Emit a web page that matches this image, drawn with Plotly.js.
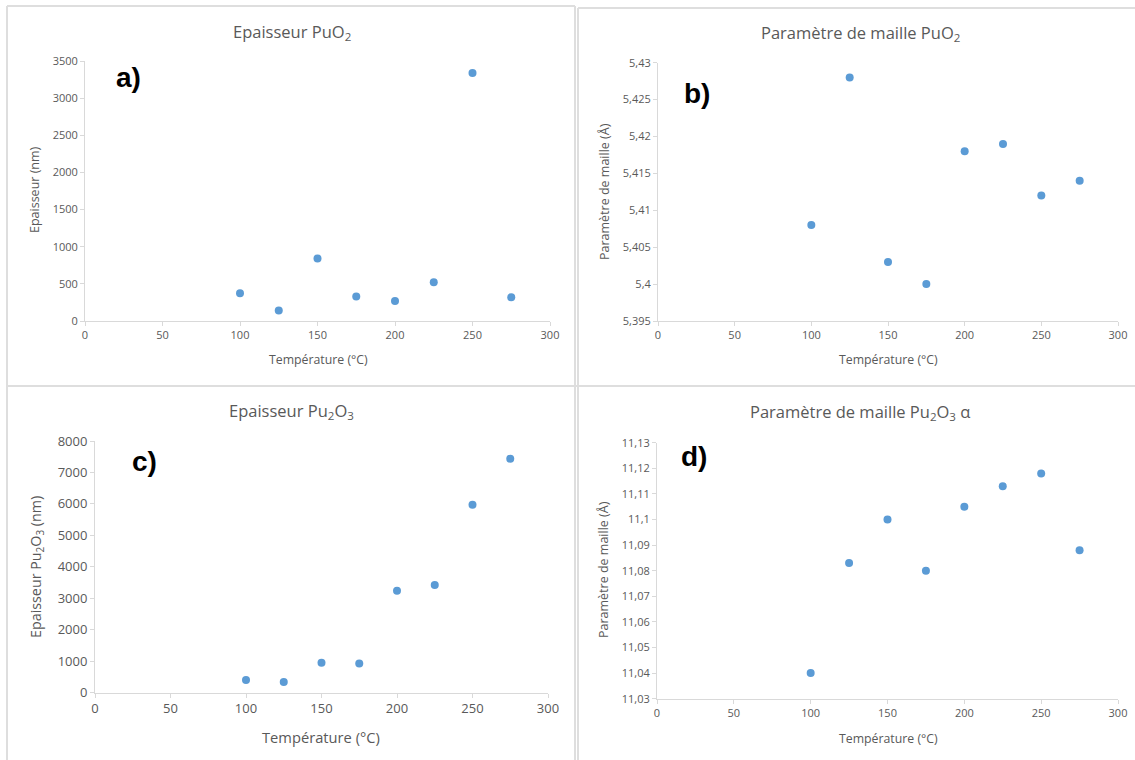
<!DOCTYPE html>
<html>
<head>
<meta charset="utf-8">
<script src="https://cdn.plot.ly/plotly-3.0.1.min.js"></script>
<style>html,body{margin:0;padding:0;background:#fff;}#chart{width:1135px;height:760px;}</style>
</head>
<body>
<div id="chart"></div>
<script>
// ---- data ----
const temperatures = [100, 125, 150, 175, 200, 225, 250, 275];
const epaisseurPuO2 = [373, 140, 841, 329, 270, 521, 3338, 319];
const paramPuO2 = [5.408, 5.428, 5.403, 5.400, 5.418, 5.419, 5.412, 5.414];
const epaisseurPu2O3 = [400, 340, 953, 932, 3242, 3422, 5975, 7436];
const paramPu2O3 = [11.040, 11.083, 11.100, 11.080, 11.105, 11.113, 11.118, 11.088];

const xTickVals = [0, 50, 100, 150, 200, 250, 300];
const xTickText = ['0', '50', '100', '150', '200', '250', '300'];
const aTickVals = [0, 500, 1000, 1500, 2000, 2500, 3000, 3500];
const aTickText = ['0', '500', '1000', '1500', '2000', '2500', '3000', '3500'];
const bTickVals = [5.395, 5.4, 5.405, 5.41, 5.415, 5.42, 5.425, 5.43];
const bTickText = ['5,395', '5,4', '5,405', '5,41', '5,415', '5,42', '5,425', '5,43'];
const cTickVals = [0, 1000, 2000, 3000, 4000, 5000, 6000, 7000, 8000];
const cTickText = ['0', '1000', '2000', '3000', '4000', '5000', '6000', '7000', '8000'];
const dTickVals = [11.03, 11.04, 11.05, 11.06, 11.07, 11.08, 11.09, 11.1, 11.11, 11.12, 11.13];
const dTickText = ['11,03', '11,04', '11,05', '11,06', '11,07', '11,08', '11,09', '11,1', '11,11', '11,12', '11,13'];

const titles = ['Epaisseur PuO<sub>2</sub>', 'Paramètre de maille PuO<sub>2</sub>',
                'Epaisseur Pu<sub>2</sub>O<sub>3</sub>', 'Paramètre de maille Pu<sub>2</sub>O<sub>3</sub> α'];
const letters = ['a)', 'b)', 'c)', 'd)'];
const yTitles = ['Epaisseur (nm)', 'Paramètre de maille (Å)', 'Epaisseur Pu<sub>2</sub>O<sub>3</sub> (nm)', 'Paramètre de maille (Å)'];
const xTitle = 'Température (°C)';

// ---- layout helpers (pixel -> paper) ----
const W = 1135, H = 760;
const px = x => x / W;
const py = y => 1 - y / H;

const FONT = 'Open Sans, Noto Sans, sans-serif';
const GREY = '#595959';
const AXC = '#d9d9d9';
const MARK = '#5B9BD5';

function xaxis(x0, x1, anchor, fs) {
  return {domain: [px(x0), px(x1)], anchor: anchor, range: [0, 300], tickvals: xTickVals, ticktext: xTickText,
    showgrid: false, zeroline: false, showline: true, linecolor: AXC, linewidth: 1,
    ticks: 'outside', ticklen: 4, tickcolor: AXC, tickfont: {family: FONT, size: fs, color: GREY},
    automargin: false, fixedrange: true};
}
function yaxis(y0, y1, anchor, range, tv, tt, fs) {
  return {domain: [py(y1), py(y0)], anchor: anchor, range: range, tickvals: tv, ticktext: tt,
    showgrid: false, zeroline: false, showline: true, linecolor: AXC, linewidth: 1,
    ticks: 'outside', ticklen: 4, tickcolor: AXC, tickfont: {family: FONT, size: fs, color: GREY},
    automargin: false, fixedrange: true};
}

const marker = {color: MARK, size: 8};
const traces = [
  {x: temperatures, y: epaisseurPuO2, xaxis: 'x', yaxis: 'y', mode: 'markers', type: 'scatter', marker: marker},
  {x: temperatures, y: paramPuO2, xaxis: 'x2', yaxis: 'y2', mode: 'markers', type: 'scatter', marker: marker},
  {x: temperatures, y: epaisseurPu2O3, xaxis: 'x3', yaxis: 'y3', mode: 'markers', type: 'scatter', marker: marker},
  {x: temperatures, y: paramPu2O3, xaxis: 'x4', yaxis: 'y4', mode: 'markers', type: 'scatter', marker: marker}
];

// panel geometry (pixels)
const P = [
  {x0: 85, x1: 550, y0: 61, y1: 321},
  {x0: 658, x1: 1118, y0: 62.7, y1: 321},
  {x0: 95, x1: 548, y0: 441, y1: 692.7},
  {x0: 657, x1: 1118, y0: 442.7, y1: 698.7}
];

function ann(text, x, y, size, opts) {
  return Object.assign({text: text, x: px(x), y: py(y), xref: 'paper', yref: 'paper', showarrow: false,
    xanchor: 'center', yanchor: 'middle', font: {family: FONT, size: size, color: GREY}}, opts || {});
}
const LFONT = {family: 'Liberation Sans, Arial, sans-serif', size: 28, color: '#000'};

const annotations = [
  ann(titles[0], 292, 32, 16.5),
  ann(titles[1], 860, 33, 16.5),
  ann(titles[2], 291, 411, 16.5),
  ann(titles[3], 860, 412, 16.5),
  ann('<b>' + letters[0] + '</b>', 128, 78, 28, {font: LFONT}),
  ann('<b>' + letters[1] + '</b>', 697, 93, 28, {font: LFONT}),
  ann('<b>' + letters[2] + '</b>', 144, 461, 28, {font: LFONT}),
  ann('<b>' + letters[3] + '</b>', 694, 456, 28, {font: LFONT}),
  ann(yTitles[0], 34, 190, 12.5, {textangle: -90}),
  ann(yTitles[1], 604, 192, 12.5, {textangle: -90}),
  ann(yTitles[2], 36, 567, 14.3, {textangle: -90}),
  ann(yTitles[3], 603, 570, 12.5, {textangle: -90}),
  ann(xTitle, 318, 359, 12.3),
  ann(xTitle, 888, 359, 12.3),
  ann(xTitle, 321, 737, 14.7),
  ann(xTitle, 888, 738, 12.3)
];

function line(x0, y0, x1, y1) {
  return {type: 'line', xref: 'paper', yref: 'paper', x0: px(x0), y0: py(y0), x1: px(x1), y1: py(y1),
    line: {color: '#dedede', width: 2}};
}
const shapes = [
  line(7, 6, 575, 6), line(7, 6, 7, 760), line(575, 6, 575, 760),
  line(578, 8, 1135, 8), line(578, 8, 578, 760),
  line(7, 386, 1135, 386)
];

const layout = {
  width: W, height: H, margin: {l: 0, r: 0, t: 0, b: 0}, paper_bgcolor: '#fff', plot_bgcolor: 'rgba(0,0,0,0)',
  showlegend: false, annotations: annotations, shapes: shapes,
  xaxis: xaxis(P[0].x0, P[0].x1, 'y', 11),
  yaxis: yaxis(P[0].y0, P[0].y1, 'x', [0, 3500], aTickVals, aTickText, 11),
  xaxis2: xaxis(P[1].x0, P[1].x1, 'y2', 11),
  yaxis2: yaxis(P[1].y0, P[1].y1, 'x2', [5.395, 5.43], bTickVals, bTickText, 11),
  xaxis3: xaxis(P[2].x0, P[2].x1, 'y3', 13),
  yaxis3: yaxis(P[2].y0, P[2].y1, 'x3', [0, 8000], cTickVals, cTickText, 13),
  xaxis4: xaxis(P[3].x0, P[3].x1, 'y4', 11),
  yaxis4: yaxis(P[3].y0, P[3].y1, 'x4', [11.03, 11.13], dTickVals, dTickText, 11)
};

Plotly.newPlot('chart', traces, layout, {displayModeBar: false, staticPlot: true});
</script>
</body>
</html>
